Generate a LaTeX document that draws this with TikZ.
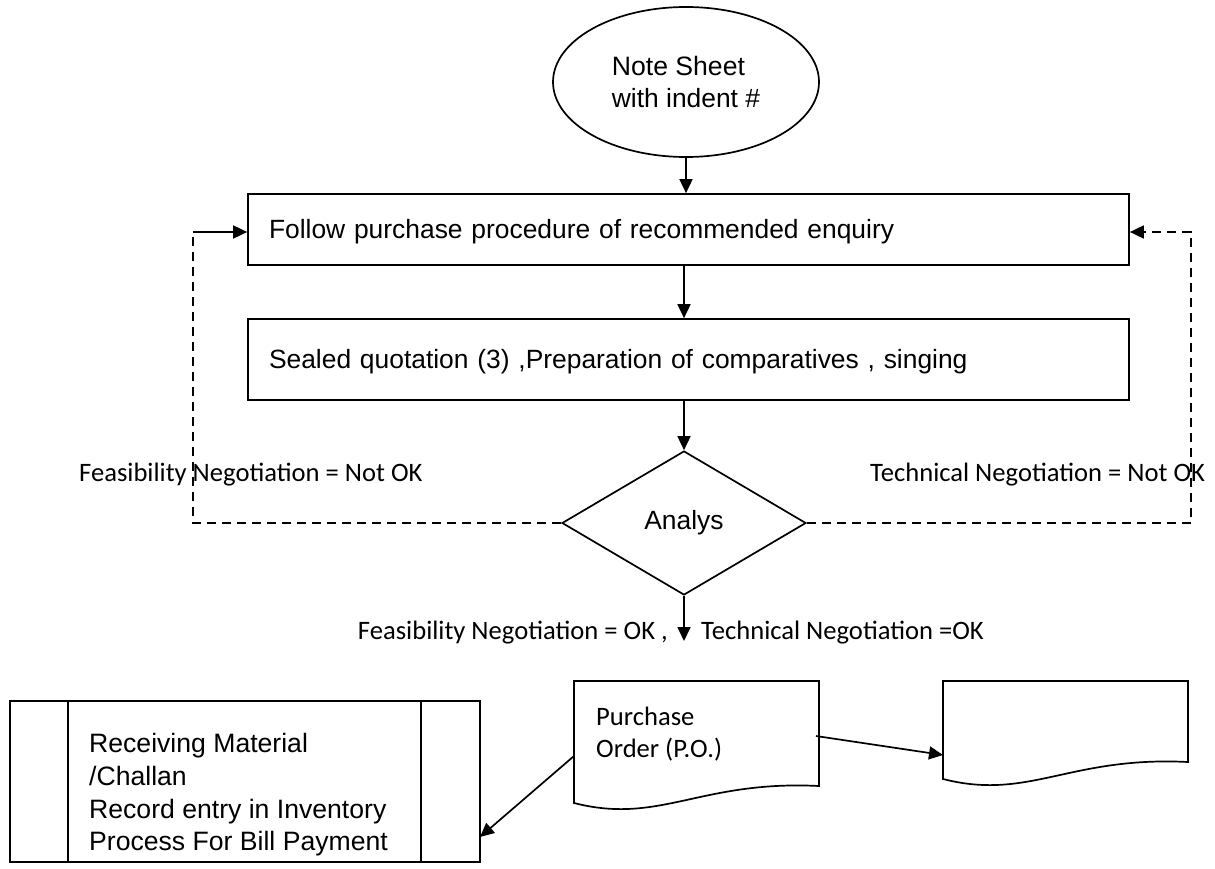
\documentclass[tikz,border=0pt]{standalone}
\usepackage{fontspec}
\setmainfont{Liberation Sans}
\newfontfamily\calibri{Carlito}
\usetikzlibrary{shapes.geometric,arrows.meta}
\begin{document}
\begin{tikzpicture}[x=1pt,y=-1pt,
  every node/.style={font=\fontsize{26.4}{32}\selectfont},
  ln/.style={line width=1.7pt},
  arr/.style={line width=1.7pt,-{Triangle[length=14pt,width=13pt]}},
  dashline/.style={line width=1.7pt,dash pattern=on 9pt off 6pt},
  procbox/.style={draw,line width=1.7pt,rectangle,minimum width=881pt,text width=839pt,inner xsep=21pt,align=left},
  lbl/.style={font=\calibri\fontsize{26.6}{32}\selectfont,inner sep=0pt}]
\useasboundingbox (0,0) rectangle (1215,869);
% start ellipse
\node[draw,ln,ellipse,minimum width=266pt,minimum height=150pt,align=left,inner sep=0pt] (ell) at (686,82)
  {\fontsize{26.6}{27}\selectfont Note Sheet\\with indent \#};
% process boxes
\node[procbox,minimum height=71pt,text depth=2pt] (box1) at (688.5,229.5) {Follow purchase procedure of recommended enquiry};
\node[procbox,minimum height=81pt,text depth=2pt] (box2) at (688.5,359.5) {Sealed quotation (3) ,Preparation of comparatives , singing};
% decision
\node[draw,ln,diamond,minimum width=244pt,minimum height=144pt,inner sep=0pt] (dia) at (684,523) {Analys};
% connectors
\draw[arr] (ell.south) -- (ell.south |- box1.north);
\draw[arr] (box1.south -| dia.north) -- (box2.north -| dia.north);
\draw[arr] (box2.south -| dia.north) -- (dia.north);
\coordinate (fl) at (193,232);
\coordinate (fr) at (1191,232);
\draw[dashline] (dia.west) -| (fl);
\draw[arr] (fl) -- (box1.west |- fl);
\draw[dashline,-{Triangle[length=14pt,width=13pt]}] (dia.east) -| (fr) -- (box1.east |- fr);
\coordinate (okend) at (684,641);
\draw[arr] (dia.south) -- (okend);
% labels
\node[lbl,anchor=west] (lnf) at (79,475) {Feasibility Negotiation = Not OK};
\node[lbl,anchor=west] (lnt) at (870,475) {Technical Negotiation = Not OK};
\node[lbl,anchor=east] (lof) at (668,633) {Feasibility Negotiation = OK ,};
\node[lbl,anchor=west] (lot) at (701,633) {Technical Negotiation =OK};
% purchase order document
\draw[ln] (574,681) coordinate (po-tl) -- (819,681) coordinate (po-tr) -- (819,786) coordinate (po-br)
  .. controls (700,780) and (660,825) .. (574,803) coordinate (po-bl) -- cycle;
\node[lbl,anchor=west,align=left,font=\calibri\fontsize{26.6}{32}\selectfont] (potext) at (596,734) {Purchase\\Order (P.O.)};
% second document
\draw[ln] (943,681) coordinate (d2-tl) -- (1188,681) coordinate (d2-tr) -- (1188,762) coordinate (d2-br)
  .. controls (1069,756) and (1029,801) .. (943,779) coordinate (d2-bl) -- cycle;
% predefined process
\node[draw,ln,rectangle,minimum width=470pt,minimum height=161pt,inner sep=0pt] (pp) at (245,781.5) {};
\draw[ln] (68,701) coordinate (pp-a) -- (68,862);
\draw[ln] (421,701) coordinate (pp-b) -- (421,862);
\node[anchor=west,align=left,inner sep=0pt,font=\fontsize{26.6}{32.7}\selectfont] (pptext) at (89,795)
  {Receiving Material\\/Challan\\Record entry in Inventory\\Process For Bill Payment};
% document connectors
\coordinate (poR) at (816,736);
\coordinate (d2L) at (943,755);
\coordinate (poL) at (574,756);
\coordinate (ppR) at (480,837);
\draw[arr] (poR) -- (d2L);
\draw[arr] (poL) -- (ppR);
\end{tikzpicture}
\end{document}
